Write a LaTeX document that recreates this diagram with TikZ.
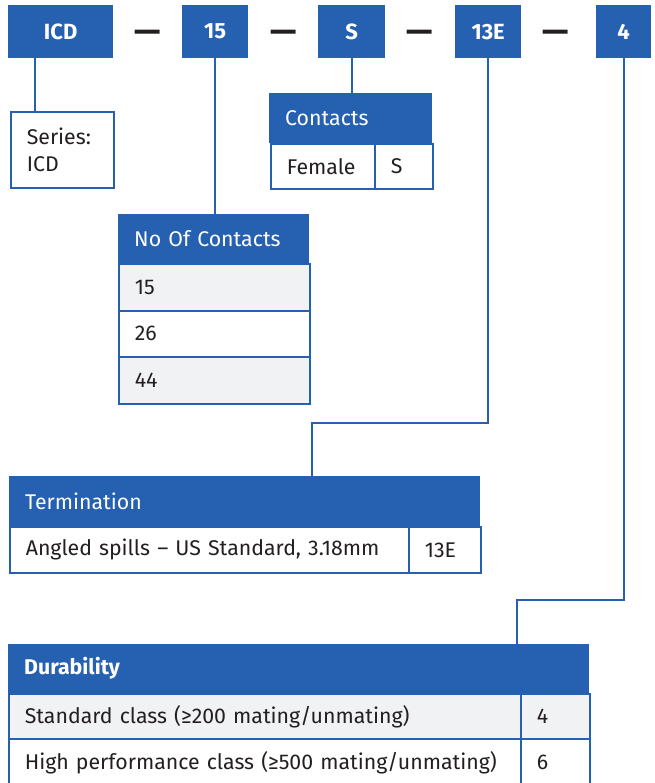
\documentclass[tikz,border=0pt]{standalone}
\usepackage{fontspec}
\setmainfont{Fira Sans}
\usetikzlibrary{positioning}
\definecolor{codeblue}{RGB}{38,96,176}
\definecolor{rowgrey}{RGB}{241,242,244}
\definecolor{ink}{RGB}{35,31,32}
\newcommand\cellfont{\fontsize{21.3}{27}\selectfont}
\tikzset{
 link/.style={draw=codeblue, line width=2pt},
 codebox/.style={fill=codeblue, text=white, font=\fontsize{22}{25}\selectfont\bfseries, anchor=north west, minimum height=53pt, inner sep=0pt},
 dashtext/.style={text=ink, font=\fontsize{33}{34}\selectfont\bfseries, inner sep=0pt},
 headcell/.style={fill=codeblue, text=white, font=\cellfont, anchor=north west, inner xsep=16pt, inner ysep=0pt, align=left},
 bodycell/.style={draw=codeblue, line width=1.6pt, fill=white, text=ink, font=\cellfont, anchor=north west, inner xsep=16pt, inner ysep=0pt, align=left},
 greycell/.style={bodycell, fill=rowgrey},
}
\begin{document}
\begin{tikzpicture}[x=1pt, y=-1pt]
\useasboundingbox (0,0) rectangle (654,783);
% part number code
\foreach \x/\w/\n/\t in {8/105/icd/ICD,182/66/num/15,318/67/sex/S,455/66/term/13E,596/55/dur/4}
 \node[codebox, minimum width=\w pt] (\n) at (\x,5) {\t};
\foreach \x in {148,284,420,556}
 \node[dashtext] (dash\x) at (\x,36) {—};

% series
\node[bodycell, text width=71pt, minimum height=76pt] (series) at (10,111) {Series:\\ICD};

% contacts
\node[headcell, text width=131pt, minimum height=50pt] (sexhead) at (269,93) {Contacts};
\node[bodycell, text width=72pt, minimum height=45pt] (female) at (270,143) {Female};
\node[bodycell, text width=26pt, minimum height=45pt] (femcode) at (374,143) {S};

% number of contacts
\node[headcell, text width=159pt, minimum height=49pt] (numhead) at (118,214) {No Of Contacts};
\node[greycell, text width=159pt, minimum height=47pt] (num15) at (118,263) {15};
\node[bodycell, text width=159pt, minimum height=46pt] (num26) at (118,310) {26};
\node[greycell, text width=159pt, minimum height=47pt] (num44) at (118,356) {44};

% termination
\node[headcell, text width=439pt, minimum height=50pt] (termhead) at (9,476) {Termination};
\node[bodycell, text width=367pt, minimum height=46pt] (spills) at (9,526) {Angled spills – US Standard, 3.18mm};
\node[bodycell, text width=40pt, minimum height=46pt] (spillcode) at (408,526) {13E};

% durability
\node[headcell, font=\cellfont\bfseries, text width=549pt, minimum height=49pt] (durhead) at (8,644) {Durability};
\node[greycell, text width=480pt, minimum height=45pt] (stdclass) at (8,693) {Standard class (≥200 mating/unmating)};
\node[greycell, text width=37pt, minimum height=45pt] (stdcode) at (520,693) {4};
\node[bodycell, text width=480pt, minimum height=47pt] (hiclass) at (8,738) {High performance class (≥500 mating/unmating)};
\node[bodycell, text width=37pt, minimum height=47pt] (hicode) at (520,738) {6};

% connectors
\draw[link] ([xshift=27pt]icd.south west) -- ([xshift=25pt]series.north west);
\draw[link] (num.south) -- (num.south |- numhead.north);
\draw[link] (sex.south) -- (sex.south |- sexhead.north);
\draw[link] (term.south) -- ++(0,365) -| ([xshift=303pt]termhead.north west);
\draw[link] (dur.south) -- ++(0,542) -| ([xshift=509pt]durhead.north west);
\end{tikzpicture}
\end{document}
